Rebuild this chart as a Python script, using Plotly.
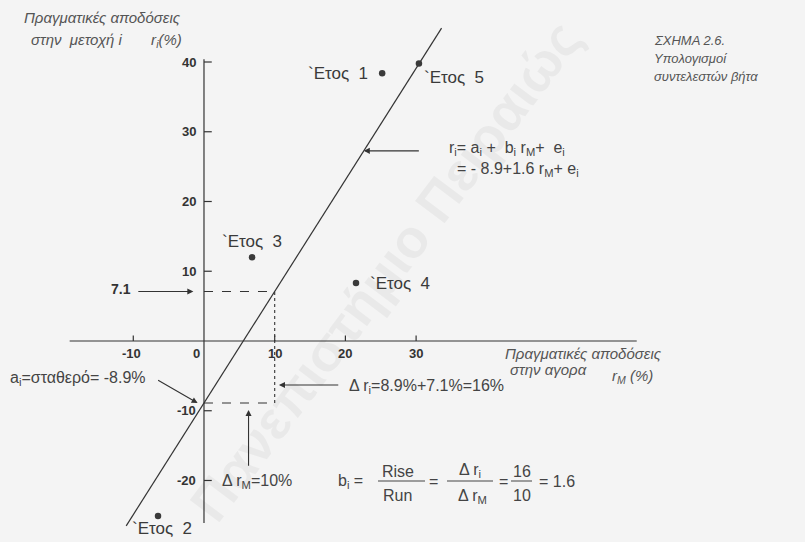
import plotly.graph_objects as go

W, H = 805, 542

# Annual returns (%) of the market (r_M) and of stock i (r_i)
years = ["`Ετος\u00a0 1", "`Ετος\u00a0 2", "`Ετος\u00a0 3", "`Ετος\u00a0 4", "`Ετος\u00a0 5"]
market_returns = [25.2, -6.5, 6.8, 21.5, 30.4]
stock_returns = [38.4, -25.1, 12.0, 8.3, 39.8]

# Characteristic line r_i = a_i + b_i r_M
alpha = -8.9
beta = 1.6
run = 10
rise = beta * run
y_at_run = alpha + beta * run

x_ticks = [-10, 0, 10, 20, 30]
y_ticks = [40, 30, 20, 10, -10, -20]

INK = "#333333"
TXT = "#444444"
FONT = "Liberation Sans, Arial, sans-serif"


def P(px, py):
    """Pixel position on the page -> paper fraction."""
    return px / W, 1 - py / H


fig = go.Figure()

# regression line
line_x = [-11, 33.6]
fig.add_trace(go.Scatter(
    x=line_x, y=[alpha + beta * v for v in line_x], mode="lines",
    line=dict(color=INK, width=1.2), hoverinfo="skip", showlegend=False))

# yearly observations
fig.add_trace(go.Scatter(
    x=market_returns, y=stock_returns, mode="markers",
    marker=dict(color="#3a3a3a", size=6.5), hoverinfo="skip", showlegend=False))

shapes = []
ann = []

# faint diagonal watermark
wx, wy = P(385, 271)
ann.append(dict(xref="paper", yref="paper", x=wx, y=wy, text="Πανεπιστήμιο Πειραιώς",
                showarrow=False, textangle=-53,
                font=dict(family=FONT, size=54, color="rgba(0,0,0,0.045)", weight="bold")))

# axes through the origin
shapes.append(dict(type="line", x0=-19, x1=61.2, y0=0, y1=0, line=dict(color=INK, width=1.2)))
shapes.append(dict(type="line", x0=0, x1=0, y0=-26.1, y1=40.4, line=dict(color=INK, width=1.2)))

for t in x_ticks:
    if t != 0:
        shapes.append(dict(type="line", x0=t, x1=t, y0=0, y1=0.8, line=dict(color=INK, width=1.2)))
    ann.append(dict(x=t, y=0, text=str(t), showarrow=False, yanchor="top", yshift=-3,
                    xshift=-7 if t == 0 else (-2 if t < 0 else 0),
                    font=dict(family=FONT, size=13, color=INK, weight="bold")))
for t in y_ticks:
    shapes.append(dict(type="line", x0=0, x1=1.1, y0=t, y1=t, line=dict(color=INK, width=1.2)))
    ann.append(dict(x=0, y=t, text=str(t), showarrow=False, xanchor="right", xshift=-6,
                    font=dict(family=FONT, size=13, color=INK, weight="bold")))

# rise / run construction
dash = dict(color=INK, width=1.1, dash="dash")
shapes.append(dict(type="line", x0=0, x1=run, y0=y_at_run, y1=y_at_run, line=dash))
shapes.append(dict(type="line", x0=0, x1=run, y0=alpha, y1=alpha, line=dash))
shapes.append(dict(type="line", x0=run, x1=run, y0=alpha, y1=y_at_run,
                   line=dict(color=INK, width=1.1, dash="dot")))

# point labels
label_pos = [("right", -12, 0), ("center", 4, -12), ("center", 0, 16), ("left", 12, 0), ("left", 3, -14)]
for name, mx, sy, (anc, dx, dy) in zip(years, market_returns, stock_returns, label_pos):
    ann.append(dict(x=mx, y=sy, text=name, showarrow=False, xanchor=anc,
                    xshift=dx, yshift=dy, font=dict(family=FONT, size=17, color="#3a3a3a")))


def arrow(hx, hy, tx, ty):
    return dict(x=hx, y=hy, ax=tx, ay=ty, axref="x", ayref="y", text="", showarrow=True,
                arrowhead=2, arrowsize=1.1, arrowwidth=1.1, arrowcolor=INK)


eq_x = 22.6
ann.append(arrow(eq_x, alpha + beta * eq_x, 30.6, alpha + beta * eq_x))
ann.append(arrow(-1.5, y_at_run, -9.5, y_at_run))
ann.append(arrow(-0.9, alpha, -6.7, -5.5))
ann.append(arrow(10.6, -6.3, 19.2, -6.3))
ann.append(arrow(6.3, -9.9, 6.3, -18.1))


def text(px, py, s, size=14, anchor="left", color=TXT, weight="normal", italic=False):
    x, y = P(px, py)
    ann.append(dict(xref="paper", yref="paper", x=x, y=y, text=s, showarrow=False,
                    xanchor=anchor, yanchor="middle",
                    font=dict(family=FONT, size=size, color=color, weight=weight,
                              style="italic" if italic else "normal")))


NB = "\u00a0"

# axis titles
text(22, 18, "Πραγματικές αποδόσεις", 15, italic=True, color="#555555")
text(29, 41, "στην" + NB + " μετοχή i" + NB * 6 + " r<sub>i</sub>(%)", 15, italic=True, color="#555555")
text(503, 353, "Πραγματικές αποδόσεις", 15, italic=True, color="#555555")
text(508, 369, "στην αγορα", 15, italic=True, color="#555555")
text(610, 376, "r<sub>M</sub> (%)", 15, italic=True, color="#555555")

# figure caption
text(652, 41, "ΣΧΗΜΑ 2.6.", 13, italic=True, color="#555555")
text(652, 59, "Υπολογισμοί", 13, italic=True, color="#555555")
text(652, 77, "συντελεστών βήτα", 13, italic=True, color="#555555")

# equation of the line
text(447, 149, "r<sub>i</sub>= a<sub>i</sub> +" + NB + " b<sub>i</sub> r<sub>M</sub>+" + NB + " e<sub>i</sub>", 16)
text(455, 169, "= - 8.9+1.6 r<sub>M</sub>+ e<sub>i</sub>", 16)

text(133, 289, f"{y_at_run:.1f}", 14, anchor="right", color=INK, weight="bold")
text(8, 378, f"a<sub>i</sub>=σταθερό= {alpha:.1f}%", 16)
text(347, 386, f"Δ r<sub>i</sub>={-alpha:.1f}%+{y_at_run:.1f}%={rise:.0f}%", 16)
text(220, 481, f"Δ r<sub>M</sub>={run}%", 16)

# slope as rise over run
text(336, 481, "b<sub>i</sub> =", 16)
text(398, 471, "Rise", 16, anchor="center")
text(397, 495, "Run", 16, anchor="center")
text(433, 481, "=", 16, anchor="center")
text(470, 470, "Δ r<sub>i</sub>", 16, anchor="center")
text(472, 496, "Δ r<sub>M</sub>", 16, anchor="center")
text(503, 481, "=", 16, anchor="center")
text(522, 471, f"{rise:.0f}", 16, anchor="center")
text(522, 495, f"{run}", 16, anchor="center")
text(537, 481, f"= {beta}", 16)
for x0, x1 in [(378, 425), (447, 493), (511, 532)]:
    a0, b0 = P(x0, 481)
    a1, _ = P(x1, 481)
    shapes.append(dict(type="line", xref="paper", yref="paper", x0=a0, x1=a1, y0=b0, y1=b0,
                       line=dict(color=TXT, width=1)))

fig.update_layout(
    width=W, height=H, margin=dict(l=0, r=0, t=0, b=0),
    paper_bgcolor="#f4f4f4", plot_bgcolor="#f4f4f4",
    xaxis=dict(range=[-28.85, 85.0], visible=False, fixedrange=True),
    yaxis=dict(range=[-28.82, 48.89], visible=False, fixedrange=True),
    shapes=shapes, annotations=ann, showlegend=False,
)

fig.write_html("out.html")
